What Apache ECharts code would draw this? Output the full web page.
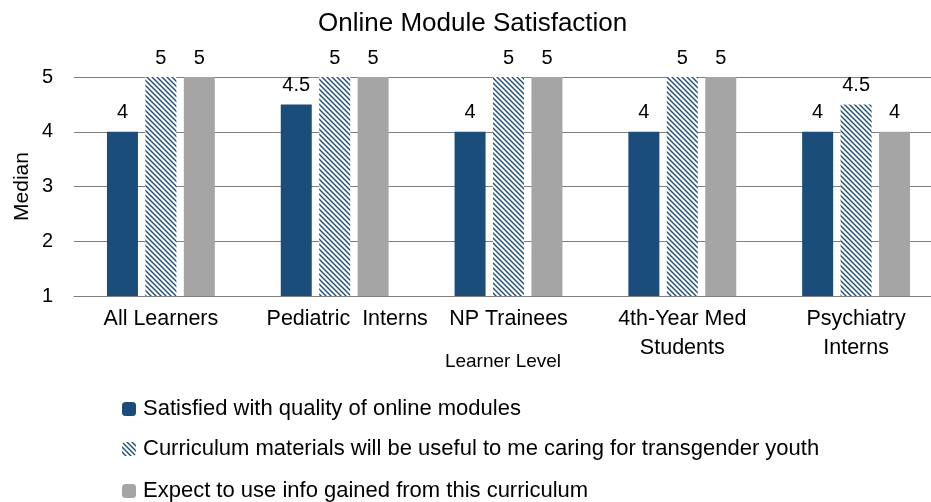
<!DOCTYPE html>
<html><head><meta charset="utf-8">
<script src="https://cdn.jsdelivr.net/npm/echarts@6/dist/echarts.min.js"></script>
<style>html,body{margin:0;padding:0;background:#fff}#c{width:931px;height:502px}</style>
</head><body><div id="c"></div>
<script>
const categories = ['All Learners', 'Pediatric  Interns', 'NP Trainees', '4th-Year Med\nStudents', 'Psychiatry\nInterns'];
const seriesNames = ['Satisfied with quality of online modules', 'Curriculum materials will be useful to me caring for transgender youth', 'Expect to use info gained from this curriculum'];
const satisfied = [4, 4.5, 4, 4, 4];
const useful = [5, 5, 5, 5, 4.5];
const expectUse = [5, 5, 5, 5, 4];
const yTicks = [1, 2, 3, 4, 5];

const blue = '#1B4D7A';
const gray = '#A5A5A5';
const pc = document.createElement('canvas');
pc.width = 5; pc.height = 5;
const ctx = pc.getContext('2d');
ctx.fillStyle = '#fff'; ctx.fillRect(0,0,5,5);
ctx.strokeStyle = blue; ctx.lineWidth = 1.4;
ctx.beginPath();
ctx.moveTo(-1,-1); ctx.lineTo(6,6);
ctx.moveTo(-6,-1); ctx.lineTo(1,6);
ctx.moveTo(4,-1); ctx.lineTo(11,6);
ctx.stroke();
const hatch = {image: pc, repeat: 'repeat'};

const font = 'Liberation Sans, Arial, sans-serif';
const lbl = {show: true, position: 'top', distance: 9, color: '#000', fontSize: 20, fontFamily: font};
const legendTops = [398, 438, 480];
const legends = seriesNames.map((n, i) => ({
  orient: 'vertical', left: 122, top: legendTops[i], padding: 0, itemWidth: 14, itemHeight: 14,
  textStyle: {fontSize: 22, color: '#000', fontFamily: font, padding: [0, 0, 0, 2]}, data: [n]
}));
const chart = echarts.init(document.getElementById('c'), null, {renderer: 'canvas'});
chart.setOption({
  animation: false,
  textStyle: {fontFamily: font},
  title: {text: 'Online Module Satisfaction', left: 313, top: 6, textStyle: {fontSize: 26, fontWeight: 'normal', color: '#000', fontFamily: font}},
  grid: {left: 74, width: 869, top: 77, height: 219, outerBoundsMode: 'none', containLabel: false},
  legend: legends,
  xAxis: {type: 'category', data: categories,
    axisLine: {show: true, lineStyle: {color: '#7F7F7F', width: 1}}, axisTick: {show: false},
    axisLabel: {fontSize: 21.5, color: '#000', margin: 9, lineHeight: 29, interval: 0, fontFamily: font,
      formatter: (v, i) => i === 1 ? '{p|' + v + '}' : v,
      rich: {p: {padding: [0, 0, 0, 25], fontSize: 21.5, fontFamily: font, color: '#000'}}},
    name: 'Learner Level', nameLocation: 'middle', nameGap: 56, nameMoveOverlap: false,
    nameTextStyle: {fontSize: 19, color: '#000', fontFamily: font, align: 'center', padding: [0, 11, 0, 0]}},
  yAxis: {type: 'value', min: yTicks[0], max: yTicks[yTicks.length-1], interval: 1,
    axisLine: {show: false}, axisTick: {show: false},
    splitLine: {lineStyle: {color: '#7F7F7F', width: 1}},
    axisLabel: {fontSize: 20, color: '#000', margin: 21, fontFamily: font},
    name: 'Median', nameLocation: 'middle', nameGap: 41, nameRotate: 90, nameMoveOverlap: false,
    nameTextStyle: {fontSize: 21, color: '#000', fontFamily: font}},
  series: [
    {name: seriesNames[0], type: 'bar', data: satisfied, barWidth: 31, barGap: '24%', itemStyle: {color: blue}, label: lbl},
    {name: seriesNames[1], type: 'bar', data: useful, barWidth: 31, barGap: '24%', itemStyle: {color: hatch}, label: lbl},
    {name: seriesNames[2], type: 'bar', data: expectUse, barWidth: 31, barGap: '24%', itemStyle: {color: gray}, label: lbl}
  ]
});
</script></body></html>
